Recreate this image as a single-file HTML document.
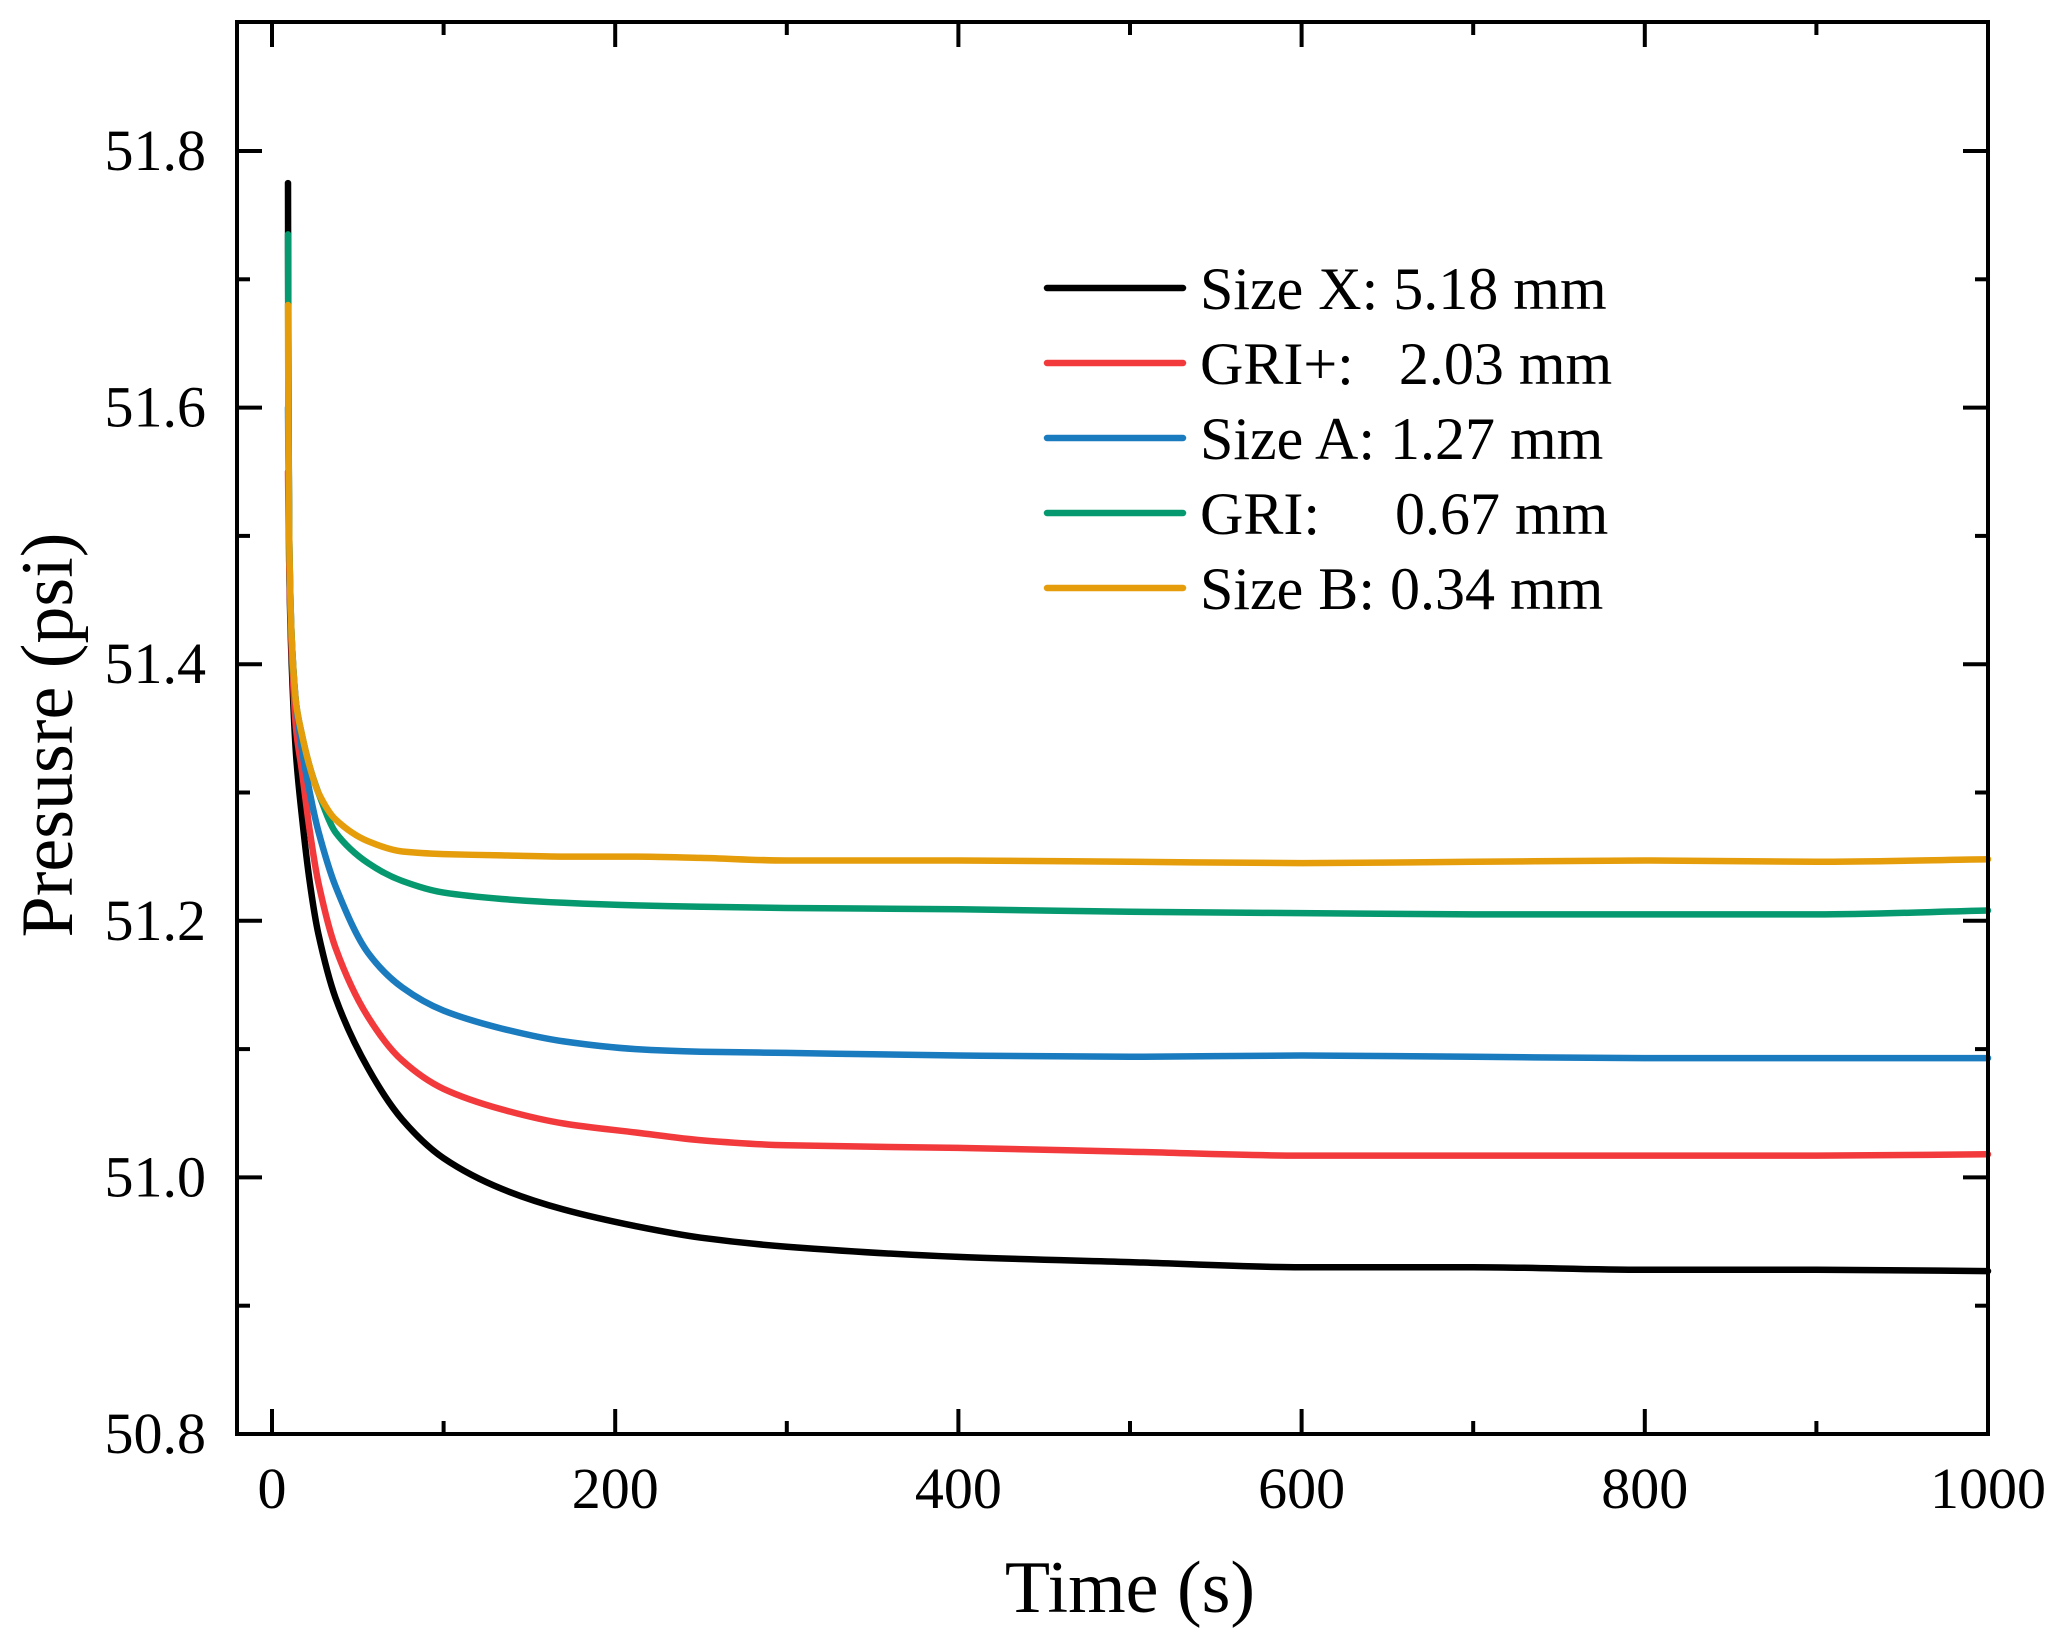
<!DOCTYPE html>
<html><head><meta charset="utf-8"><style>
html,body{margin:0;padding:0;background:#fff;}
svg{display:block;font-family:"Liberation Serif",serif;}
</style></head><body>
<svg id="chart" width="2067" height="1639" viewBox="0 0 2067 1639" xmlns="http://www.w3.org/2000/svg">
<g id="series"></g>
<g id="axes"></g>
<text x="1130" y="1612" font-size="74" text-anchor="middle">Time (s)</text>
<text transform="translate(72,735) rotate(-90)" font-size="74" text-anchor="middle">Presusre (psi)</text>
<g id="legend"></g>
</svg>
<script>
const xTicks = [0, 200, 400, 600, 800, 1000];
const yTicks = [50.8, 51.0, 51.2, 51.4, 51.6, 51.8];
const yTickLabels = ["50.8", "51.0", "51.2", "51.4", "51.6", "51.8"];
const seriesNames = ["Size X: 5.18 mm", "GRI+:   2.03 mm", "Size A: 1.27 mm", "GRI:     0.67 mm", "Size B: 0.34 mm"];
const seriesColors = ["#000000", "#f23a3c", "#1a7bbf", "#06996f", "#e59d0c"];
const timesBlack = [9.3, 9.6, 10, 11.5, 14, 17.3, 22, 27, 37, 56, 76, 100, 134, 170, 212, 250, 300, 400, 500, 600, 700, 800, 900, 1000];
const valsBlack  = [51.775, 51.6, 51.48, 51.40, 51.33, 51.283, 51.23, 51.19, 51.14, 51.085, 51.045, 51.015, 50.991, 50.975, 50.962, 50.953, 50.946, 50.938, 50.934, 50.930, 50.930, 50.928, 50.928, 50.927];
const timesRed = [9.3, 10, 11.5, 14, 17.3, 22, 27, 37, 56, 76, 100, 134, 170, 212, 250, 300, 400, 500, 600, 700, 800, 900, 1000];
const valsRed  = [51.55, 51.48, 51.41, 51.35, 51.318, 51.27, 51.23, 51.179, 51.125, 51.091, 51.069, 51.053, 51.042, 51.035, 51.029, 51.025, 51.023, 51.020, 51.017, 51.017, 51.017, 51.017, 51.018];
const timesBlue = [9.3, 10, 11.5, 14, 17.3, 22, 27, 37, 56, 76, 100, 134, 170, 212, 250, 300, 400, 500, 600, 700, 800, 900, 1000];
const valsBlue  = [51.60, 51.50, 51.42, 51.37, 51.335, 51.30, 51.27, 51.227, 51.175, 51.148, 51.130, 51.116, 51.106, 51.100, 51.098, 51.097, 51.095, 51.094, 51.095, 51.094, 51.093, 51.093, 51.093];
const timesGreen = [9.3, 9.6, 10, 11.5, 14, 17.3, 22, 27, 37, 56, 76, 100, 134, 170, 212, 250, 300, 400, 500, 600, 700, 800, 900, 1000];
const valsGreen  = [51.735, 51.6, 51.5, 51.42, 51.37, 51.346, 51.32, 51.30, 51.269, 51.245, 51.231, 51.222, 51.217, 51.214, 51.212, 51.211, 51.210, 51.209, 51.207, 51.206, 51.205, 51.205, 51.205, 51.208];
const timesOrange = [9.3, 9.6, 10, 11.5, 14, 17.3, 22, 27, 37, 56, 76, 100, 134, 170, 212, 250, 300, 400, 500, 600, 700, 800, 900, 1000];
const valsOrange  = [51.68, 51.58, 51.5, 51.42, 51.37, 51.346, 51.32, 51.30, 51.279, 51.262, 51.254, 51.252, 51.251, 51.250, 51.250, 51.249, 51.247, 51.247, 51.246, 51.245, 51.246, 51.247, 51.246, 51.248];

const NS = "http://www.w3.org/2000/svg";
const L = 237, R = 1988, T = 22, B = 1434;
function xs(t){ return 272 + (t - 0) * (1988 - 272) / 1000; }
function ys(v){ return 1434 - (v - 50.8) * (1434 - 151) / 1.0; }
function mk(tag, attrs, parent){ const e = document.createElementNS(NS, tag); for (const k in attrs) e.setAttribute(k, attrs[k]); parent.appendChild(e); return e; }

function monotonePath(px, py){
  const n = px.length, d = [], m = [];
  for (let i = 0; i < n - 1; i++) d.push((py[i+1]-py[i])/(px[i+1]-px[i]));
  m.push(d[0]);
  for (let i = 1; i < n - 1; i++) m.push(d[i-1]*d[i] <= 0 ? 0 : 2/(1/d[i-1]+1/d[i]));
  m.push(d[n-2]);
  let s = "M" + px[0].toFixed(1) + "," + py[0].toFixed(1);
  for (let i = 0; i < n - 1; i++) {
    const h = (px[i+1]-px[i])/3;
    s += " C" + (px[i]+h).toFixed(1) + "," + (py[i]+m[i]*h).toFixed(1) + " " + (px[i+1]-h).toFixed(1) + "," + (py[i+1]-m[i+1]*h).toFixed(1) + " " + px[i+1].toFixed(1) + "," + py[i+1].toFixed(1);
  }
  return s;
}

const series = document.getElementById('series');
const allT = [timesBlack, timesRed, timesBlue, timesGreen, timesOrange];
const allV = [valsBlack, valsRed, valsBlue, valsGreen, valsOrange];
const keys = ["size-x", "gri-plus", "size-a", "gri", "size-b"];
for (let i = 0; i < 5; i++) {
  const px = allT[i].map(xs), py = allV[i].map(ys);
  const p = mk('path', {d: monotonePath(px, py), fill: 'none', stroke: seriesColors[i], 'stroke-width': 6.5, 'stroke-linejoin': 'round', 'stroke-linecap': 'round'}, series);
  
  
}

const axes = document.getElementById('axes');
const frame = mk('rect', {x: L, y: T, width: R - L, height: B - T, fill: 'none', stroke: '#000', 'stroke-width': 4}, axes);


for (let t = 0; t <= 1000; t += 100) {
  const major = t % 200 === 0;
  const len = major ? 25 : 13;
  const x = xs(t);
  const tb = mk('line', {x1: x, x2: x, y1: B, y2: B - len, stroke: '#000', 'stroke-width': 4}, axes);
  
  
  const tt = mk('line', {x1: x, x2: x, y1: T, y2: T + len, stroke: '#000', 'stroke-width': 4}, axes);
  
  
}
xTicks.forEach(t => {
  const tx = mk('text', {x: xs(t), y: 1508, 'font-size': 58, 'text-anchor': 'middle'}, axes);
  tx.textContent = String(t);
  
  
});
for (let k = 0; k <= 10; k++) {
  const v = 50.8 + k * 0.1;
  const major = k % 2 === 0;
  const len = major ? 25 : 13;
  const y = ys(v);
  const tl = mk('line', {x1: L, x2: L + len, y1: y, y2: y, stroke: '#000', 'stroke-width': 4}, axes);
  
  
  const tr = mk('line', {x1: R, x2: R - len, y1: y, y2: y, stroke: '#000', 'stroke-width': 4}, axes);
  
  
}
yTicks.forEach((v, i) => {
  const ty = mk('text', {x: 206, y: ys(v) + 19, 'font-size': 58, 'text-anchor': 'end'}, axes);
  ty.textContent = yTickLabels[i];
  
  
});

const legend = document.getElementById('legend');
for (let i = 0; i < 5; i++) {
  const y = 288 + i * 75;
  const g = mk('g', {}, legend);
  
  
  const ln = mk('line', {x1: 1047, x2: 1183, y1: y, y2: y, stroke: seriesColors[i], 'stroke-width': 6.5, 'stroke-linecap': 'round'}, g);
  
  
  const tx = mk('text', {x: 1200, y: y + 21, 'font-size': 60}, g);
  tx.setAttribute('style', 'white-space:pre');
  tx.textContent = seriesNames[i];
  
  
}
</script>
</body></html>
